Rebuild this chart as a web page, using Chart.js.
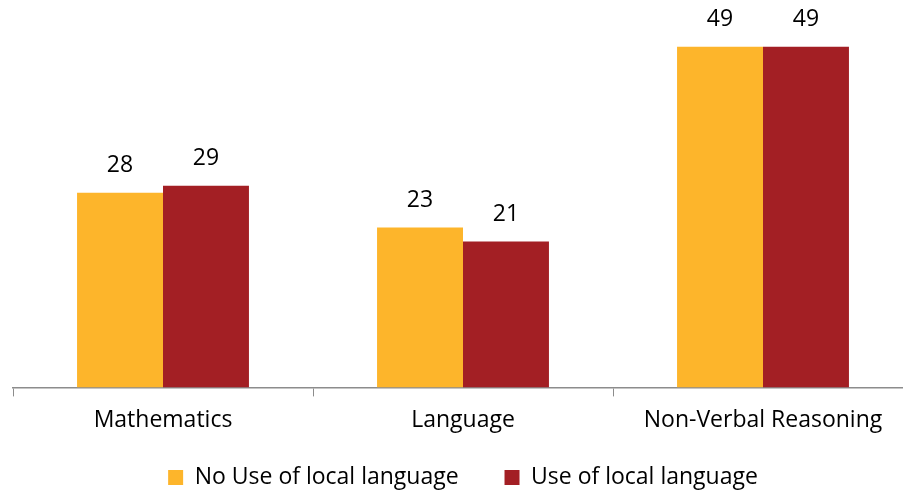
<!DOCTYPE html>
<html>
<head>
<meta charset="utf-8">
<script src="https://cdn.jsdelivr.net/npm/chart.js@4/dist/chart.umd.min.js"></script>
<style>
  html, body { margin: 0; padding: 0; background: #fff; }
  #wrap { width: 903px; height: 491px; overflow: hidden; position: relative; }
  #box { width: 913px; height: 499px; }
</style>
</head>
<body>
<div id="wrap"><div id="box"><canvas id="chart"></canvas></div></div>
<script>
// Subjects and mean scores per group
const subjects = ['Mathematics', 'Language', 'Non-Verbal Reasoning'];
const noLocalLanguage = [28, 23, 49];
const localLanguage = [29, 21, 49];
const seriesNames = ['No Use of local language', 'Use of local language'];

const FONT = '"Open Sans", sans-serif';
const FONT_SIZE = 23;

// Draw the value above each bar
const valueLabels = {
    id: 'valueLabels',
    afterDatasetsDraw(chart) {
        const ctx = chart.ctx;
        ctx.save();
        ctx.font = FONT_SIZE + 'px ' + FONT;
        ctx.fillStyle = '#000';
        ctx.textAlign = 'center';
        ctx.textBaseline = 'middle';
        chart.data.datasets.forEach((ds, i) => {
            chart.getDatasetMeta(i).data.forEach((bar, j) => {
                ctx.fillText(String(ds.data[j]), bar.x, bar.y - 27);
            });
        });
        ctx.restore();
    }
};

new Chart(document.getElementById('chart'), {
    type: 'bar',
    data: {
        labels: subjects,
        datasets: [{
            label: seriesNames[0],
            data: noLocalLanguage,
            backgroundColor: '#FDB52B',
            categoryPercentage: 0.573,
            barPercentage: 1
        }, {
            label: seriesNames[1],
            data: localLanguage,
            backgroundColor: '#A31F24',
            categoryPercentage: 0.573,
            barPercentage: 1
        }]
    },
    options: {
        responsive: true,
        maintainAspectRatio: false,
        animation: false,
        layout: { padding: { left: 13, right: 0, top: 5, bottom: 0 } },
        scales: {
            x: {
                grid: {
                    display: true,
                    drawOnChartArea: false,
                    drawTicks: true,
                    tickLength: 9,
                    offset: true,
                    color: '#8c8c8c'
                },
                border: { color: '#8c8c8c', width: 1.5 },
                ticks: {
                    color: '#000',
                    padding: 10,
                    font: { family: FONT, size: FONT_SIZE }
                }
            },
            y: {
                display: false,
                min: 0,
                max: 55
            }
        },
        plugins: {
            tooltip: { enabled: false },
            legend: {
                position: 'bottom',
                labels: {
                    color: '#000',
                    boxWidth: 15,
                    boxHeight: 15,
                    padding: 22,
                    font: { family: FONT, size: FONT_SIZE },
                    // pad the first entry so the two items sit further apart
                    generateLabels(chart) {
                        const items = Chart.defaults.plugins.legend.labels.generateLabels(chart);
                        items[0].text = items[0].text + '    ';
                        return items;
                    }
                }
            }
        }
    },
    plugins: [valueLabels]
});
</script>
</body>
</html>
